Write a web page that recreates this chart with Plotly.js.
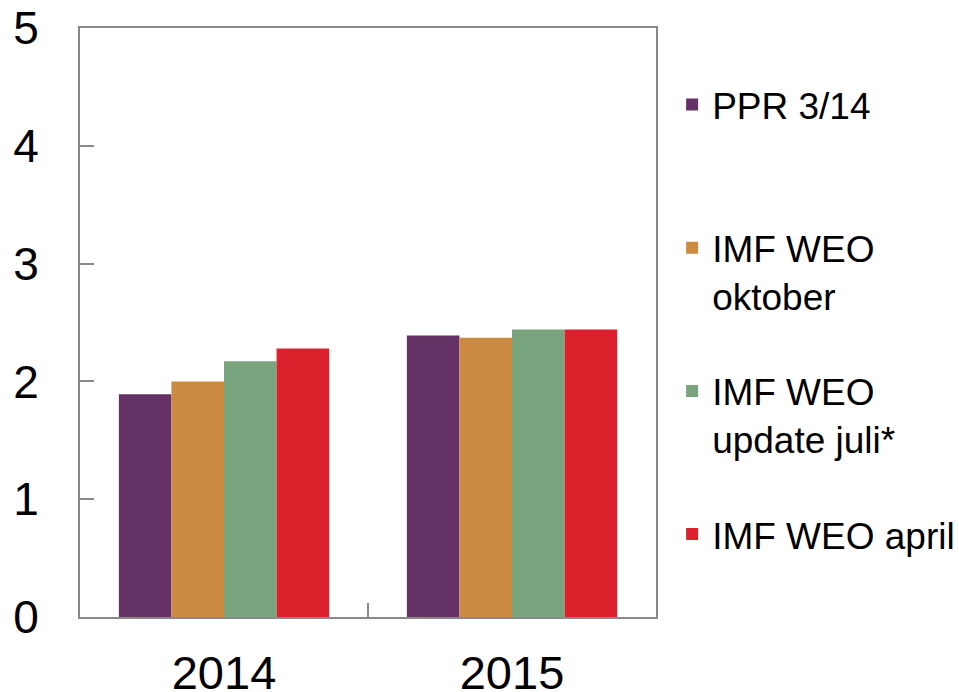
<!DOCTYPE html>
<html>
<head>
<meta charset="utf-8">
<script src="https://cdn.plot.ly/plotly-3.0.1.min.js"></script>
<style>html,body{margin:0;padding:0;background:#fff;}#chart{width:959px;height:692px;}</style>
</head>
<body>
<div id="chart"></div>
<script>
var categories = ["2014", "2015"];
var seriesNames = ["PPR 3/14", "IMF WEO<br>oktober", "IMF WEO<br>update juli*", "IMF WEO april"];
var ppr = [1.89, 2.39];
var weoOktober = [2.00, 2.37];
var weoJuli = [2.17, 2.44];
var weoApril = [2.28, 2.44];
var colors = ["#643264", "#CD8B42", "#78A57D", "#DC212D"];
var yTicks = [0, 1, 2, 3, 4, 5];

var values = [ppr, weoOktober, weoJuli, weoApril];
var traces = values.map(function (v, i) {
  return {
    type: "bar",
    x: categories,
    y: v,
    name: seriesNames[i] + (i === 0 ? "<br> " : ""),
    legendgroup: "g" + i,
    marker: { color: colors[i] },
    hoverinfo: "none"
  };
});

var layout = {
  width: 959,
  height: 692,
  margin: { l: 80, r: 303, t: 28, b: 75, autoexpand: false },
  paper_bgcolor: "#fff",
  plot_bgcolor: "#fff",
  font: { family: "Liberation Sans, Arial, sans-serif", color: "#000" },
  barmode: "group",
  bargap: 0.27,
  bargroupgap: 0,
  showlegend: true,
  legend: {
    x: 1.028, xanchor: "left",
    y: 0.922, yanchor: "top",
    font: { size: 37, color: "#000" },
    valign: "top",
    tracegroupgap: 44,
    bgcolor: "rgba(0,0,0,0)"
  },
  xaxis: {
    type: "category",
    showline: true, linecolor: "#898989", linewidth: 2,
    mirror: true,
    ticks: "inside", ticklen: 14, tickcolor: "#898989", tickwidth: 2,
    tickson: "boundaries",
    tickfont: { size: 47 },
    ticklabelstandoff: 14,
    showgrid: false, zeroline: false
  },
  yaxis: {
    range: [0, 5],
    tickvals: yTicks,
    showline: true, linecolor: "#898989", linewidth: 2,
    mirror: true,
    ticks: "inside", ticklen: 14, tickcolor: "#898989", tickwidth: 2,
    tickfont: { size: 46 },
    ticklabelstandoff: 30,
    showgrid: false, zeroline: false
  }
};

Plotly.newPlot("chart", traces, layout, { staticPlot: true, displayModeBar: false });
</script>
</body>
</html>
